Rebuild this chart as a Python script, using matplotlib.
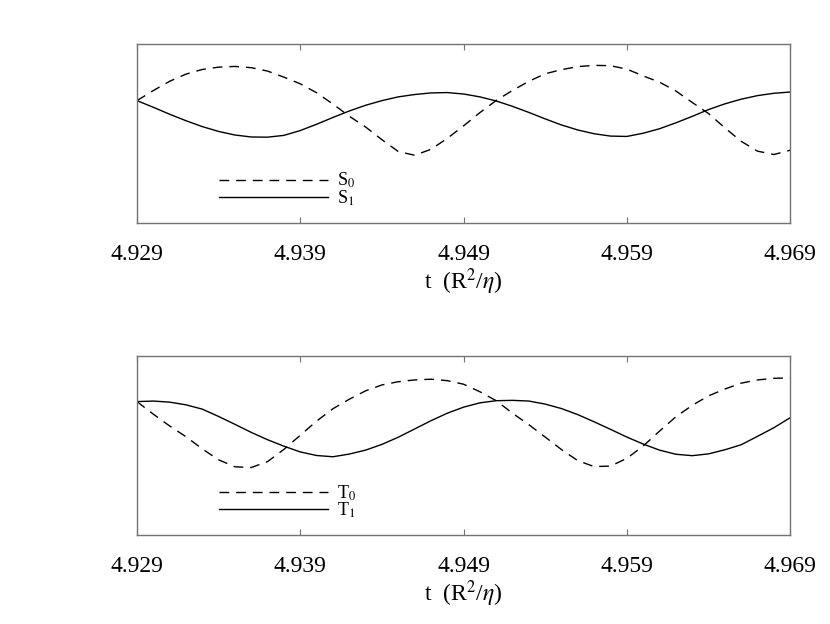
import numpy as np
import matplotlib
matplotlib.use("Agg")
import matplotlib.pyplot as plt

# time grid (R^2/eta), one sample per 0.001
t = [4.929, 4.930, 4.931, 4.932, 4.933, 4.934, 4.935, 4.936, 4.937, 4.938,
     4.939, 4.940, 4.941, 4.942, 4.943, 4.944, 4.945, 4.946, 4.947, 4.948,
     4.949, 4.950, 4.951, 4.952, 4.953, 4.954, 4.955, 4.956, 4.957, 4.958,
     4.959, 4.960, 4.961, 4.962, 4.963, 4.964, 4.965, 4.966, 4.967, 4.968,
     4.969]

# values (arbitrary units, 0 = bottom of frame, 1 = top)
s0 = [0.682, 0.738, 0.790, 0.830, 0.856, 0.869, 0.873, 0.866, 0.847, 0.813,
      0.776, 0.726, 0.663, 0.595, 0.535, 0.464, 0.398, 0.377, 0.410, 0.471,
      0.541, 0.615, 0.683, 0.739, 0.790, 0.832, 0.855, 0.872, 0.879, 0.877,
      0.858, 0.820, 0.785, 0.736, 0.672, 0.610, 0.530, 0.455, 0.400, 0.381,
      0.405]
s1 = [0.682, 0.645, 0.606, 0.570, 0.537, 0.510, 0.490, 0.479, 0.478, 0.488,
      0.515, 0.550, 0.588, 0.624, 0.656, 0.682, 0.703, 0.716, 0.725, 0.727,
      0.719, 0.703, 0.680, 0.650, 0.616, 0.580, 0.546, 0.518, 0.497, 0.484,
      0.482, 0.500, 0.525, 0.558, 0.594, 0.632, 0.664, 0.690, 0.710, 0.723,
      0.730]
t0 = [0.745, 0.675, 0.609, 0.549, 0.481, 0.420, 0.381, 0.377, 0.410, 0.478,
      0.557, 0.636, 0.705, 0.758, 0.805, 0.838, 0.856, 0.866, 0.870, 0.862,
      0.842, 0.800, 0.750, 0.680, 0.616, 0.547, 0.477, 0.415, 0.382, 0.385,
      0.428, 0.497, 0.580, 0.660, 0.724, 0.777, 0.815, 0.848, 0.866, 0.875,
      0.877]
t1 = [0.745, 0.748, 0.742, 0.727, 0.703, 0.662, 0.618, 0.573, 0.532, 0.496,
      0.464, 0.444, 0.437, 0.452, 0.474, 0.506, 0.546, 0.592, 0.638, 0.680,
      0.714, 0.738, 0.750, 0.752, 0.748, 0.731, 0.706, 0.672, 0.632, 0.590,
      0.547, 0.508, 0.474, 0.451, 0.443, 0.453, 0.476, 0.504, 0.551, 0.599,
      0.655]

xticks = [4.929, 4.939, 4.949, 4.959, 4.969]
xtick_labels = ["4.929", "4.939", "4.949", "4.959", "4.969"]

plt.rcParams['font.family'] = ['Liberation Serif', 'DejaVu Serif']
plt.rcParams['mathtext.fontset'] = 'stix'

fig = plt.figure(figsize=(8.3, 6.24), dpi=100)
ax1 = fig.add_axes([0.165, 0.643, 0.787, 0.287])
ax2 = fig.add_axes([0.165, 0.1426, 0.787, 0.287])

panels = [
    (ax1, s0, s1, 'S$_0$', 'S$_1$'),
    (ax2, t0, t1, 'T$_0$', 'T$_1$'),
]

for ax, ya, yb, la, lb in panels:
    ax.plot(t, ya, color='black', lw=1.0, dashes=(7, 5), label=la)
    ax.plot(t, yb, color='black', lw=1.0, label=lb)
    ax.set_xlim(4.929, 4.969)
    ax.set_ylim(0, 1)
    ax.set_xticks(xticks)
    ax.set_xticklabels(xtick_labels)
    ax.set_yticks([])
    ax.tick_params(axis='x', direction='in', top=True, length=4, width=0.8,
                   color='0.45', labelsize=17, pad=15)
    for sp in ax.spines.values():
        sp.set_color('0.45')
        sp.set_linewidth(1.0)
    ax.set_xlabel('t  (R$^{2}$/$\\eta$)', fontsize=17, labelpad=1)
    ax.legend(loc='upper left', bbox_to_anchor=(0.115, 0.33), frameon=False,
              fontsize=13, handlelength=6.0, handletextpad=0.5,
              labelspacing=-0.1, borderaxespad=0)

fig.savefig('out.png', dpi=100)
